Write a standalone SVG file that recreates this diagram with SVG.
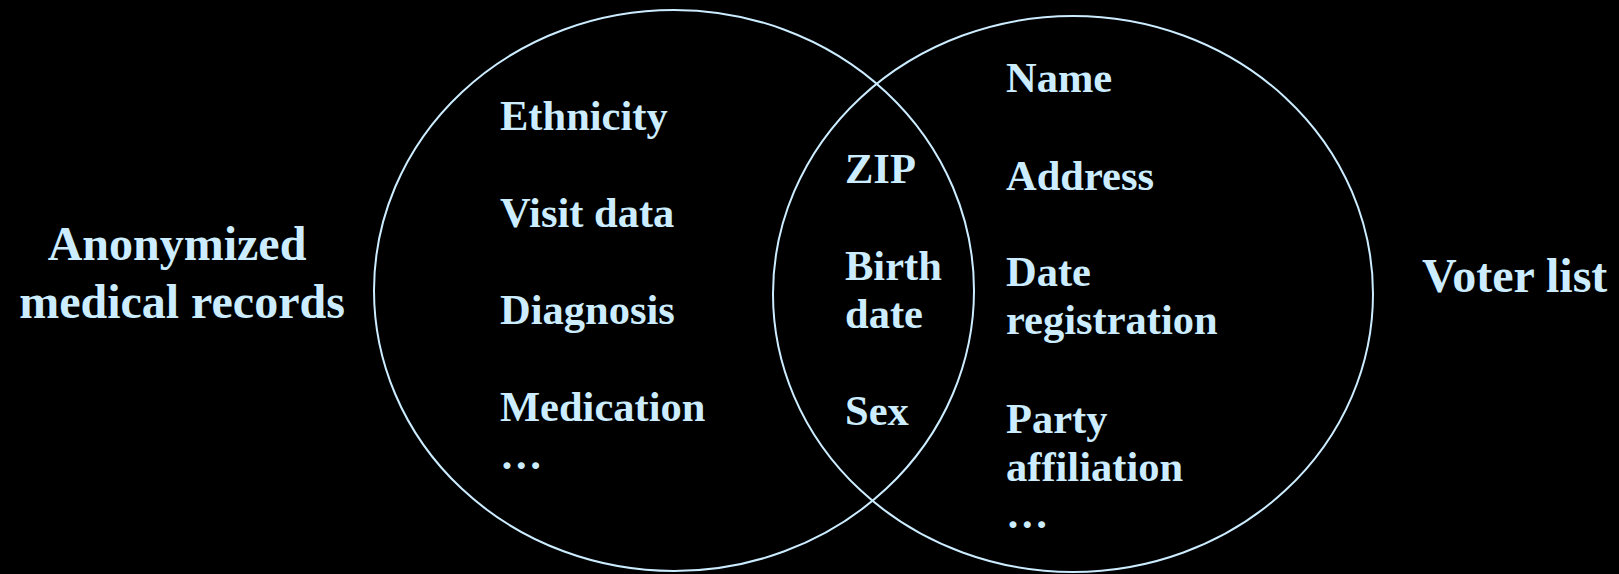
<svg xmlns="http://www.w3.org/2000/svg" width="1619" height="574" viewBox="0 0 1619 574">
<style>
.t{font-family:"Liberation Serif","Times New Roman",serif;font-weight:bold;fill:#CCECFF}
.big{font-size:48px}
.item{font-size:42.5px}
.ring{fill:none;stroke:#CCECFF;stroke-width:2}
</style>
<rect width="1619" height="574" fill="#000"/>
<g id="medical-records-set">
<ellipse class="ring" cx="674" cy="290.5" rx="300" ry="280.5"/>
<text class="t item" x="500" y="130">Ethnicity</text>
<text class="t item" x="500" y="227">Visit data</text>
<text class="t item" x="500" y="324">Diagnosis</text>
<text class="t item" x="500" y="421">Medication</text>
<text class="t item" x="500" y="469">…</text>
</g>
<g id="voter-list-set">
<ellipse class="ring" cx="1073" cy="294" rx="300" ry="278"/>
<text class="t item" x="1006" y="92">Name</text>
<text class="t item" x="1006" y="190">Address</text>
<text class="t item" x="1006" y="286">Date</text>
<text class="t item" x="1006" y="334">registration</text>
<text class="t item" x="1006" y="433">Party</text>
<text class="t item" x="1006" y="481">affiliation</text>
<text class="t item" x="1006" y="528">…</text>
</g>
<g id="overlap">
<text class="t item" x="845" y="183">ZIP</text>
<text class="t item" x="845" y="280">Birth</text>
<text class="t item" x="845" y="328">date</text>
<text class="t item" x="845" y="425">Sex</text>
</g>
<g id="label-medical">
<text class="t big" x="177" y="260" text-anchor="middle">Anonymized</text>
<text class="t big" x="182" y="318" text-anchor="middle">medical records</text>
</g>
<g id="label-voter">
<text class="t big" x="1422" y="292">Voter list</text>
</g>
<g id="connectors"/>
</svg>
